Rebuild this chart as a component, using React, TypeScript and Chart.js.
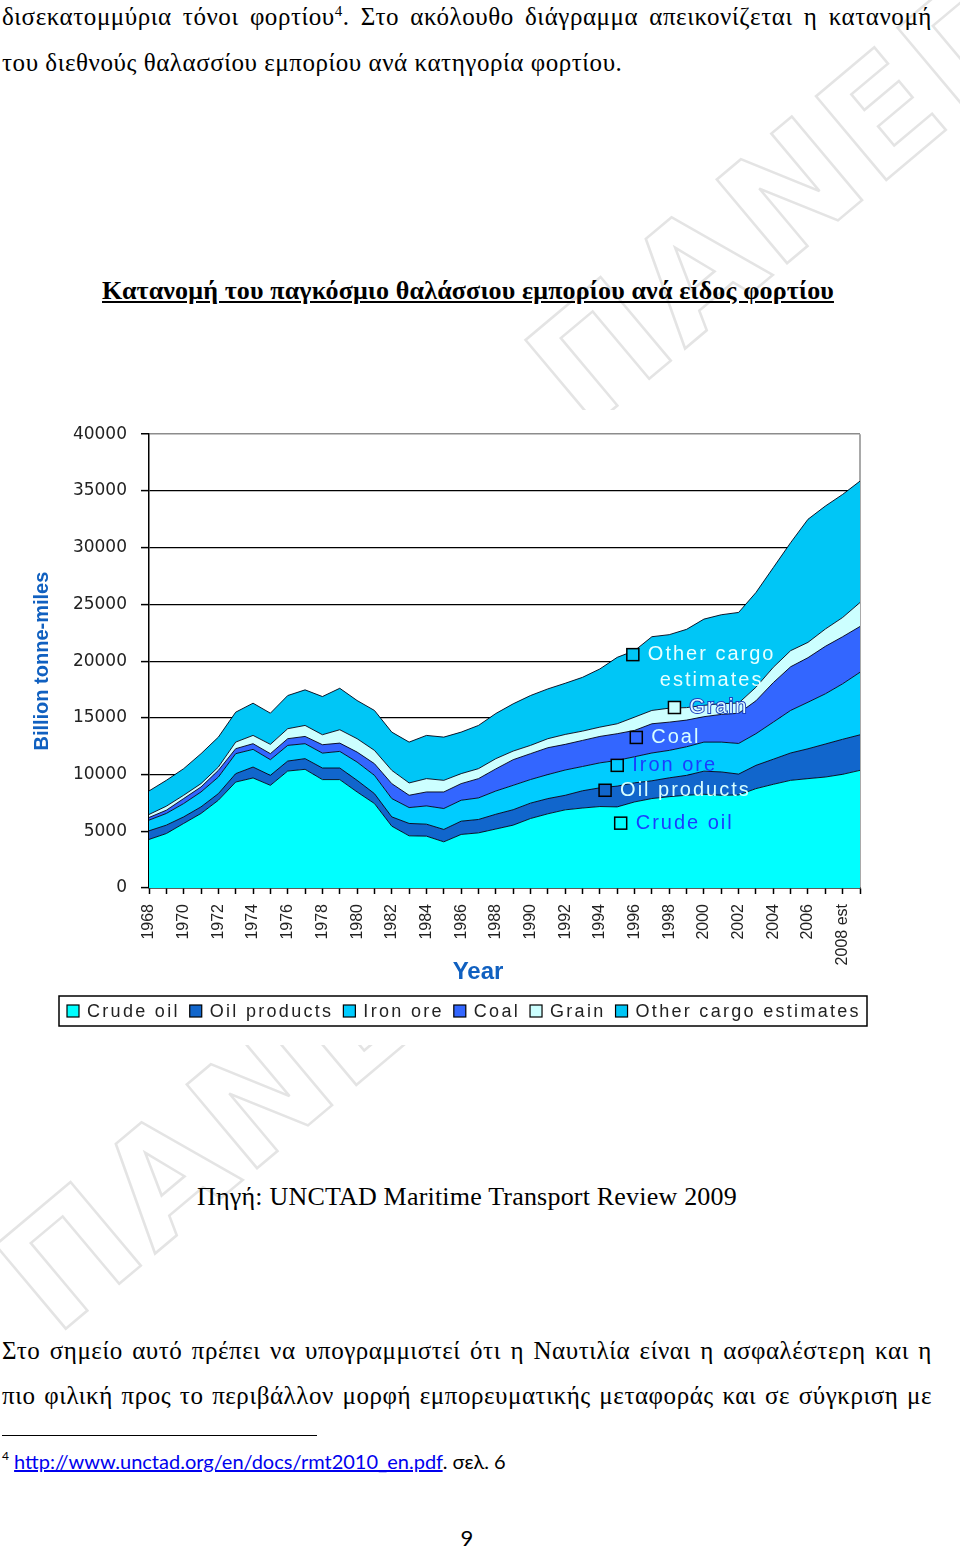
import React, { useEffect, useRef } from 'react';
import { Chart, registerables } from 'chart.js';

Chart.register(...registerables);

// ---------- data ----------
const years = [
  '1968', '1969', '1970', '1971', '1972', '1973', '1974', '1975', '1976', '1977',
  '1978', '1979', '1980', '1981', '1982', '1983', '1984', '1985', '1986', '1987',
  '1988', '1989', '1990', '1991', '1992', '1993', '1994', '1995', '1996', '1997',
  '1998', '1999', '2000', '2001', '2002', '2003', '2004', '2005', '2006', '2007',
  '2008 est', '',
];

const crudeOil = [
  4280, 4800, 5690, 6570, 7735, 9340, 9700, 9050, 10310, 10460,
  9555, 9555, 8465, 7445, 5450, 4600, 4570, 4070, 4720, 4860,
  5200, 5540, 6125, 6540, 6890, 7050, 7180, 7150, 7585, 7885,
  8050, 8175, 8260, 8175, 8200, 8760, 9140, 9490, 9640, 9780,
  10020, 10370,
];
const oilProducts = [
  760, 740, 580, 580, 585, 740, 960, 880, 880, 940,
  1020, 1020, 1025, 875, 820, 1090, 1055, 1090, 1170, 1180,
  1300, 1360, 1355, 1340, 1280, 1520, 1650, 1830, 1685, 1565,
  1660, 1755, 2040, 2055, 1840, 2050, 2210, 2410, 2630, 2910,
  3090, 3130,
];
const ironOre = [
  940, 1030, 1175, 1315, 1460, 1760, 1560, 1380, 1380, 1320,
  1315, 1465, 1610, 1610, 1615, 1400, 1610, 1845, 1845, 1900,
  2050, 2150, 2080, 2120, 2230, 2140, 2200, 2270, 2300, 2450,
  2420, 2520, 2560, 2630, 2700, 2790, 3270, 3750, 4105, 4425,
  4890, 5515,
];
const coal = [
  235, 285, 440, 440, 590, 440, 500, 530, 590, 640,
  740, 730, 880, 1030, 1315, 1085, 1230, 1460, 1465, 1700,
  1950, 2260, 2280, 2365, 2260, 2300, 2330, 2350, 2320, 2575,
  2490, 2350, 2240, 2440, 2660, 2900, 3480, 3850, 3925, 4185,
  4150, 4035,
];
const grain = [
  265, 355, 290, 295, 290, 580, 730, 820, 880, 970,
  880, 1180, 1180, 1170, 1170, 1085, 1175, 1025, 880, 880,
  900, 760, 730, 795, 875, 820, 820, 875, 1170, 1175,
  1230, 1100, 1000, 950, 900, 1195, 1350, 1420, 1350, 1525,
  1695, 2115,
];
const otherCargo = [
  2075, 2280, 2345, 2640, 2640, 2640, 2840, 2750, 2925, 3135,
  3365, 3655, 3365, 3520, 3370, 3600, 3810, 3810, 3660, 3810,
  3980, 4165, 4395, 4390, 4510, 4740, 5130, 5855, 5860, 6500,
  6480, 6900, 7600, 7835, 7990, 8350, 8790, 9520, 10850, 10840,
  10850, 10700,
];

const seriesNames = ['Crude oil', 'Oil products', 'Iron ore', 'Coal', 'Grain', 'Other cargo estimates'];
const seriesValues = [crudeOil, oilProducts, ironOre, coal, grain, otherCargo];
const seriesColors = ['#00FFFF', '#1166CC', '#00CCFF', '#3366FF', '#CCFFFF', '#00C6F6'];

const yMin = 0;
const yMax = 40000;
const yStep = 5000;

// in-chart callouts (series index, category position, value)
const calloutLines = [['Other cargo', 'estimates'], ['Grain'], ['Coal'], ['Iron ore'], ['Oil products'], ['Crude oil']];
const calloutSeries = [5, 4, 3, 2, 1, 0];
const calloutCategory = [27.9, 30.3, 28.1, 27.0, 26.3, 27.2];
const calloutValue = [20570, 15910, 13270, 10810, 8615, 5715];
const calloutTextColor = ['#E6FFFF', '#DDFBFF', '#D8FFFF', '#1A3CFF', '#D8FFFF', '#1A3CFF'];

const AXIS_BLUE = '#1060C0';

const decorPlugin = {
  id: 'decor',
  beforeDatasetsDraw(chart: any) {
    const { ctx, chartArea } = chart;
    ctx.save();
    ctx.strokeStyle = '#8c8c8c';
    ctx.lineWidth = 1.5;
    ctx.beginPath();
    ctx.moveTo(chartArea.right, chartArea.top);
    ctx.lineTo(chartArea.right, chartArea.bottom);
    ctx.stroke();
    ctx.restore();
  },
  afterDatasetsDraw(chart: any) {
    const { ctx, scales } = chart;
    ctx.save();
    ctx.font = '20px "Liberation Sans", Arial, sans-serif';
    (ctx as any).letterSpacing = '2px';
    ctx.textBaseline = 'middle';
    ctx.textAlign = 'left';
    calloutLines.forEach((lines, k) => {
      const x = scales.x.getPixelForValue(calloutCategory[k]);
      const y = scales.y.getPixelForValue(calloutValue[k]);
      ctx.fillStyle = seriesColors[calloutSeries[k]];
      ctx.fillRect(x - 6, y - 6, 12, 12);
      ctx.strokeStyle = '#000';
      ctx.lineWidth = 1.5;
      ctx.strokeRect(x - 6, y - 6, 12, 12);
      lines.forEach((line, j) => {
        const tx = x + 15 + (j > 0 ? 12 : 0);
        const ty = y + j * 26;
        if (calloutSeries[k] === 4) {
          ctx.strokeStyle = '#1B3FBF';
          ctx.lineWidth = 2;
          ctx.strokeText(line, tx, ty);
        }
        ctx.fillStyle = calloutTextColor[k];
        ctx.fillText(line, tx, ty);
      });
    });
    ctx.restore();
  },
  afterDraw(chart: any) {
    const { ctx, chartArea } = chart;
    ctx.save();
    // x axis title
    ctx.font = 'bold 24px "Liberation Sans", Arial, sans-serif';
    ctx.fillStyle = AXIS_BLUE;
    ctx.textAlign = 'center';
    ctx.textBaseline = 'middle';
    ctx.fillText('Year', chartArea.left + 329, chartArea.bottom + 84);

    // legend box
    const boxL = chartArea.left - 90;
    const boxR = chartArea.right + 7;
    const boxT = chartArea.bottom + 108;
    const boxH = 30;
    ctx.strokeStyle = '#000';
    ctx.lineWidth = 1.5;
    ctx.strokeRect(boxL, boxT, boxR - boxL, boxH);
    ctx.font = '18px "Liberation Sans", Arial, sans-serif';
    (ctx as any).letterSpacing = '2.3px';
    ctx.textAlign = 'left';
    ctx.textBaseline = 'middle';
    let x = boxL + 8;
    const cy = boxT + boxH / 2;
    seriesNames.forEach((name, k) => {
      ctx.fillStyle = seriesColors[k];
      ctx.fillRect(x, cy - 6, 12, 12);
      ctx.strokeStyle = '#000';
      ctx.lineWidth = 1.2;
      ctx.strokeRect(x, cy - 6, 12, 12);
      ctx.fillStyle = '#222';
      ctx.fillText(name, x + 20, cy + 1);
      x += 20 + ctx.measureText(name).width + 10;
    });
    ctx.restore();
  },
};

function AreaChart() {
  const canvasRef = useRef<HTMLCanvasElement>(null);
  useEffect(() => {
    const canvas = canvasRef.current;
    if (!canvas) return;
    const chart = new Chart(canvas, {
      type: 'line',
      data: {
        labels: years,
        datasets: seriesNames.map((name, k) => ({
          label: name,
          data: seriesValues[k],
          backgroundColor: seriesColors[k],
          borderColor: 'rgba(0,0,20,0.9)',
          borderWidth: 1,
          pointRadius: 0,
          tension: 0,
          fill: k === 0 ? 'origin' : '-1',
        })),
      },
      options: {
        responsive: false,
        devicePixelRatio: 1,
        animation: false,
        layout: { padding: { left: 0, right: 100, top: 23, bottom: 0 } },
        plugins: {
          legend: { display: false },
          tooltip: { enabled: false },
        },
        scales: {
          x: {
            type: 'category',
            offset: false,
            grid: { drawOnChartArea: false, drawTicks: true, tickLength: 6, tickColor: '#000', tickWidth: 1.5 },
            border: { display: true, color: '#000', width: 1.5 },
            ticks: {
              autoSkip: false,
              minRotation: 90,
              maxRotation: 90,
              padding: 10,
              color: '#222',
              font: { family: '"Liberation Sans", Arial, sans-serif', size: 16 },
              callback: (_v: any, i: number) => (i % 2 === 0 && i <= 40 ? years[i] : ''),
            },
            afterFit: (s: any) => { s.height = 157; },
          },
          y: {
            stacked: true,
            min: yMin,
            max: yMax,
            grid: {
              color: (c: any) => (c.tick && c.tick.value === yMax ? '#8c8c8c' : '#000'),
              lineWidth: (c: any) => (c.tick && c.tick.value === yMax ? 1.5 : 1.2),
              tickLength: 8,
              tickColor: '#000',
              tickWidth: 1.5,
            },
            border: { display: true, color: '#000', width: 1.5 },
            ticks: {
              stepSize: yStep,
              padding: 14,
              color: '#222',
              font: { family: '"DejaVu Sans", sans-serif', size: 17 },
              callback: (v: any) => String(v),
            },
            title: {
              display: true,
              text: 'Billion tonne-miles',
              color: AXIS_BLUE,
              font: { family: '"Liberation Sans", Arial, sans-serif', size: 20, weight: 'bold' },
              padding: { top: 30, bottom: 0 },
            },
            afterFit: (s: any) => { s.width = 149; },
          },
        },
      },
      plugins: [decorPlugin],
    });
    return () => chart.destroy();
  }, []);
  return (
    <canvas
      ref={canvasRef}
      width={960}
      height={635}
      style={{ position: 'absolute', left: 0, top: 410, width: 960, height: 635, background: '#fff' }}
    />
  );
}

const serif = '"Liberation Serif", "Times New Roman", serif';

const lineStyle = (top: number, justify: boolean): React.CSSProperties => ({
  position: 'absolute',
  left: 2,
  top,
  width: 930,
  fontSize: 25,
  lineHeight: '30px',
  letterSpacing: '0.55px',
  whiteSpace: 'nowrap',
  textAlign: justify ? 'justify' : 'left',
  textAlignLast: justify ? 'justify' : 'left',
  fontFamily: serif,
  color: '#000',
});

const watermarkStyle = (left: number, top: number): React.CSSProperties => ({
  position: 'absolute',
  left,
  top,
  fontFamily: '"DejaVu Sans", sans-serif',
  fontWeight: 'bold',
  fontSize: 150,
  lineHeight: '150px',
  letterSpacing: '4px',
  whiteSpace: 'nowrap',
  color: 'transparent',
  WebkitTextStroke: '2.5px #e4e4e4',
  transformOrigin: '0 100%',
  transform: 'rotate(-40deg)',
  pointerEvents: 'none',
});

export default function App() {
  useEffect(() => {
    document.body.style.margin = '0';
    document.body.style.background = '#fff';
  }, []);
  return (
    <div style={{ position: 'relative', width: 960, height: 1549, background: '#fff', overflow: 'hidden' }}>
      <div style={watermarkStyle(600, 300)}>ΠΑΝΕΠΙΣΤΗΜΙΟ</div>
      <div style={watermarkStyle(70, 1205)}>ΠΑΝΕΠΙΣΤΗΜΙΟ</div>

      <div style={lineStyle(2, true)}>
        δισεκατομμύρια τόνοι φορτίου<sup style={{ fontSize: 15, verticalAlign: '9px', lineHeight: 0 }}>4</sup>. Στο ακόλουθο διάγραμμα απεικονίζεται η κατανομή
      </div>
      <div style={lineStyle(48, false)}>του διεθνούς θαλασσίου εμπορίου ανά κατηγορία φορτίου.</div>

      <div
        style={{
          position: 'absolute', left: 0, top: 275, width: 936, textAlign: 'center',
          fontFamily: serif, fontSize: 26, fontWeight: 'bold', textDecoration: 'underline', lineHeight: '32px',
          letterSpacing: '0.15px',
        }}
      >
        Κατανομή του παγκόσμιο θαλάσσιου εμπορίου ανά είδος φορτίου
      </div>

      <AreaChart />

      <div
        style={{
          position: 'absolute', left: 0, top: 1181, width: 934, textAlign: 'center',
          fontFamily: serif, fontSize: 26, lineHeight: '32px', letterSpacing: '0.2px',
        }}
      >
        Πηγή: UNCTAD Maritime Transport Review 2009
      </div>

      <div style={lineStyle(1336, true)}>
        Στο σημείο αυτό πρέπει να υπογραμμιστεί ότι η Ναυτιλία είναι η ασφαλέστερη και η
      </div>
      <div style={lineStyle(1381, true)}>
        πιο φιλική προς το περιβάλλον μορφή εμπορευματικής μεταφοράς και σε σύγκριση με
      </div>

      <div style={{ position: 'absolute', left: 2, top: 1435, width: 315, height: 0, borderTop: '1px solid #000' }} />
      <div style={{ position: 'absolute', left: 2, top: 1447, fontFamily: 'Lato, sans-serif', fontSize: 20, lineHeight: '28px', whiteSpace: 'nowrap' }}>
        <sup style={{ fontSize: 12, verticalAlign: '9px', lineHeight: 0 }}>4</sup>{' '}
        <span style={{ color: '#0000EE', textDecoration: 'underline' }}>http://www.unctad.org/en/docs/rmt2010_en.pdf</span>. σελ. 6
      </div>
      <div style={{ position: 'absolute', left: 0, top: 1524, width: 934, textAlign: 'center', fontFamily: 'Lato, sans-serif', fontSize: 22, lineHeight: '28px' }}>
        9
      </div>
    </div>
  );
}
